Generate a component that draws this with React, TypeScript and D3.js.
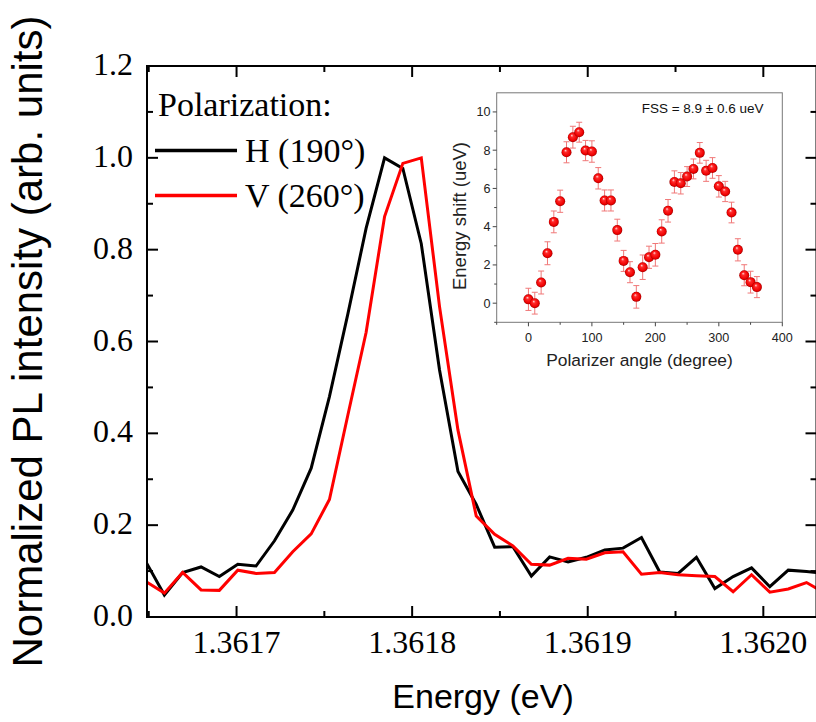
import React from "react";
import * as d3 from "d3";

const energy = [1.3616484, 1.3616589, 1.3616693, 1.3616798, 1.3616902, 1.3617007, 1.3617111, 1.3617216, 1.361732, 1.3617425, 1.3617529, 1.3617634, 1.3617738, 1.3617843, 1.3617947, 1.3618052, 1.3618156, 1.3618261, 1.3618365, 1.361847, 1.3618574, 1.3618679, 1.3618783, 1.3618888, 1.3618992, 1.3619097, 1.3619201, 1.3619306, 1.361941, 1.3619515, 1.3619619, 1.3619724, 1.3619828, 1.3619933, 1.3620037, 1.3620142, 1.3620246, 1.3620351];
const seriesH = [0.120, 0.048, 0.097, 0.109, 0.088, 0.115, 0.111, 0.166, 0.233, 0.324, 0.48, 0.66, 0.847, 1.0, 0.977, 0.813, 0.538, 0.317, 0.245, 0.152, 0.153, 0.089, 0.131, 0.120, 0.130, 0.146, 0.150, 0.173, 0.098, 0.095, 0.130, 0.062, 0.088, 0.107, 0.066, 0.102, 0.099, 0.095];
const seriesV = [0.077, 0.052, 0.097, 0.059, 0.058, 0.102, 0.095, 0.097, 0.142, 0.181, 0.256, 0.44, 0.62, 0.872, 0.988, 1.0, 0.676, 0.407, 0.220, 0.180, 0.155, 0.115, 0.113, 0.128, 0.126, 0.140, 0.142, 0.093, 0.097, 0.092, 0.090, 0.088, 0.055, 0.092, 0.054, 0.061, 0.075, 0.052];
const xMajorTicks = [1.3617, 1.3618, 1.3619, 1.362];
const xTickLabels = ["1.3617", "1.3618", "1.3619", "1.3620"];
const xMinorTicks = [1.36165, 1.36175, 1.36185, 1.36195];
const yMajorTicks = [0, 0.2, 0.4, 0.6, 0.8, 1.0, 1.2];
const yMinorTicks = [0.1, 0.3, 0.5, 0.7, 0.9, 1.1];
const legendLabels = ["H (190°)", "V (260°)"];

const angles = [0, 10, 20, 30, 40, 50, 60, 70, 80, 90, 100, 110, 120, 130, 140, 150, 160, 170, 180, 190, 200, 210, 220, 230, 240, 250, 260, 270, 280, 290, 300, 310, 320, 330, 340, 350, 360];
const shifts = [0.2, 0.0, 1.08, 2.61, 4.25, 5.33, 7.89, 8.68, 8.94, 7.98, 7.93, 6.53, 5.37, 5.37, 3.82, 2.21, 1.62, 0.33, 1.88, 2.40, 2.53, 3.75, 4.83, 6.34, 6.27, 6.62, 7.02, 7.86, 6.92, 7.07, 6.11, 5.84, 4.74, 2.79, 1.46, 1.10, 0.84];
const shiftErr = [0.58, 0.57, 0.6, 0.6, 0.57, 0.58, 0.55, 0.57, 0.52, 0.53, 0.56, 0.56, 0.55, 0.55, 0.57, 0.55, 0.55, 0.59, 0.64, 0.58, 0.59, 0.61, 0.59, 0.58, 0.56, 0.52, 0.52, 0.54, 0.55, 0.54, 0.56, 0.53, 0.54, 0.58, 0.55, 0.57, 0.55];
const insetXMajor = [0, 100, 200, 300, 400];
const insetXMinor = [-50, 50, 150, 250, 350];
const insetYMajor = [0, 2, 4, 6, 8, 10];
const insetYMinor = [-1, 1, 3, 5, 7, 9];

const L = 147, R = 816.5, T = 66, B = 617;

export default function App() {
  const x = d3.scaleLinear().domain([1.361649, 1.36203]).range([L, 816]);
  const y = d3.scaleLinear().domain([0, 1.2]).range([B, T]);
  const line = d3.line<number>().x((_, i) => x(energy[i])).y((d) => y(d));

  const ix = d3.scaleLinear().domain([-50, 400]).range([496.7, 782.3]);
  const iy = d3.scaleLinear().domain([-1, 11]).range([322.3, 92.8]);

  const serif = "'Liberation Serif', 'Times New Roman', serif";
  const sans = "'Liberation Sans', Arial, sans-serif";

  return (
    <svg width={816} height={722} style={{ display: "block", position: "absolute", left: 0, top: 0 }}>
      <defs>
        <clipPath id="plotclip">
          <rect x={L} y={T} width={R - L} height={B - T} />
        </clipPath>
        <radialGradient id="ball" cx="0.5" cy="0.5" r="0.5" fx="0.38" fy="0.3">
          <stop offset="0" stopColor="#ffe0e0" />
          <stop offset="0.3" stopColor="#ff2a2a" />
          <stop offset="0.8" stopColor="#ee0000" />
          <stop offset="1" stopColor="#a00000" />
        </radialGradient>
      </defs>
      <rect x={0} y={0} width={816} height={722} fill="#fff" />

      {/* main curves */}
      <g clipPath="url(#plotclip)">
        <path d={line(seriesH) || ""} fill="none" stroke="#000" strokeWidth={3} strokeLinejoin="miter" />
        <path d={line(seriesV) || ""} fill="none" stroke="#ff0000" strokeWidth={3} strokeLinejoin="miter" />
      </g>

      {/* frame */}
      <g stroke="#000" strokeWidth={2} fill="none">
        <line x1={L} y1={B} x2={R + 1} y2={B} />
        <line x1={L} y1={T} x2={R + 1} y2={T} />
        <line x1={L} y1={T - 1} x2={L} y2={B + 1} />
        <line x1={R} y1={T - 1} x2={R} y2={B + 1} />
        {xMajorTicks.map((t) => (
          <g key={"xm" + t}>
            <line x1={x(t)} x2={x(t)} y1={B} y2={B - 11} />
            <line x1={x(t)} x2={x(t)} y1={T} y2={T + 11} />
          </g>
        ))}
        {xMinorTicks.map((t) => (
          <g key={"xn" + t}>
            <line x1={x(t)} x2={x(t)} y1={B} y2={B - 6} />
            <line x1={x(t)} x2={x(t)} y1={T} y2={T + 6} />
          </g>
        ))}
        {yMajorTicks.map((t) => (
          <g key={"ym" + t}>
            <line x1={L} x2={L + 11} y1={y(t)} y2={y(t)} />
            <line x1={R} x2={R - 11} y1={y(t)} y2={y(t)} />
          </g>
        ))}
        {yMinorTicks.map((t) => (
          <g key={"yn" + t}>
            <line x1={L} x2={L + 6} y1={y(t)} y2={y(t)} />
            <line x1={R} x2={R - 6} y1={y(t)} y2={y(t)} />
          </g>
        ))}
      </g>

      {/* tick labels */}
      <g fontFamily={serif} fontSize={32} fill="#000">
        {xMajorTicks.map((t, i) => (
          <text key={"xl" + t} x={x(t)} y={653} textAnchor="middle">{xTickLabels[i]}</text>
        ))}
        {yMajorTicks.map((t) => (
          <text key={"yl" + t} x={133} y={y(t) + 9} textAnchor="end">{t.toFixed(1)}</text>
        ))}
      </g>

      {/* axis titles */}
      <text x={483} y={708} textAnchor="middle" fontFamily={sans} fontSize={34}>Energy (eV)</text>
      <text transform={`translate(42,${(T + B) / 2}) rotate(-90)`} textAnchor="middle" fontFamily={sans} fontSize={42}>
        Normalized PL intensity (arb. units)
      </text>

      {/* legend */}
      <g fontFamily={serif} fontSize={34}>
        <text x={158} y={116}>Polarization:</text>
        <line x1={155} x2={237} y1={150.5} y2={150.5} stroke="#000" strokeWidth={3.5} />
        <text x={245} y={162}>{legendLabels[0]}</text>
        <line x1={155} x2={237} y1={195.5} y2={195.5} stroke="#ff0000" strokeWidth={3.5} />
        <text x={245} y={207}>{legendLabels[1]}</text>
      </g>

      {/* inset */}
      <g>
        <rect x={ix(-50)} y={iy(11)} width={ix(400) - ix(-50)} height={iy(-1) - iy(11)} fill="#fff" stroke="#777" strokeWidth={1} />
        <g stroke="#444" strokeWidth={1}>
          {insetXMajor.map((t) => (
            <line key={"ixm" + t} x1={ix(t)} x2={ix(t)} y1={iy(-1)} y2={iy(-1) + 4} />
          ))}
          {insetXMinor.map((t) => (
            <line key={"ixn" + t} x1={ix(t)} x2={ix(t)} y1={iy(-1)} y2={iy(-1) + 2.5} />
          ))}
          {insetYMajor.map((t) => (
            <line key={"iym" + t} x1={ix(-50)} x2={ix(-50) - 4} y1={iy(t)} y2={iy(t)} />
          ))}
          {insetYMinor.map((t) => (
            <line key={"iyn" + t} x1={ix(-50)} x2={ix(-50) - 2.5} y1={iy(t)} y2={iy(t)} />
          ))}
        </g>
        <g fontFamily={sans} fontSize={12.6} fill="#222">
          {insetXMajor.map((t) => (
            <text key={"ixl" + t} x={ix(t)} y={341.5} textAnchor="middle">{t}</text>
          ))}
          {insetYMajor.map((t) => (
            <text key={"iyl" + t} x={490.5} y={iy(t) + 4.5} textAnchor="end">{t}</text>
          ))}
        </g>
        <text x={(ix(-50) + ix(400)) / 2} y={366} textAnchor="middle" fontFamily={sans} fontSize={17.4} fill="#222">
          Polarizer angle (degree)
        </text>
        <text transform={`translate(466,216) rotate(-90)`} textAnchor="middle" fontFamily={sans} fontSize={18.5} fill="#222">
          Energy shift (ueV)
        </text>
        <text x={641.7} y={112.5} fontFamily={sans} fontSize={13.5} fill="#111">FSS = 8.9 ± 0.6 ueV</text>
        <g stroke="#f07878" strokeWidth={1}>
          {angles.map((a, i) => (
            <g key={"eb" + a}>
              <line x1={ix(a)} x2={ix(a)} y1={iy(shifts[i] - shiftErr[i])} y2={iy(shifts[i] + shiftErr[i])} />
              <line x1={ix(a) - 3} x2={ix(a) + 3} y1={iy(shifts[i] - shiftErr[i])} y2={iy(shifts[i] - shiftErr[i])} />
              <line x1={ix(a) - 3} x2={ix(a) + 3} y1={iy(shifts[i] + shiftErr[i])} y2={iy(shifts[i] + shiftErr[i])} />
            </g>
          ))}
        </g>
        {angles.map((a, i) => (
          <circle key={"pt" + a} cx={ix(a)} cy={iy(shifts[i])} r={5} fill="url(#ball)" />
        ))}
      </g>
    </svg>
  );
}
